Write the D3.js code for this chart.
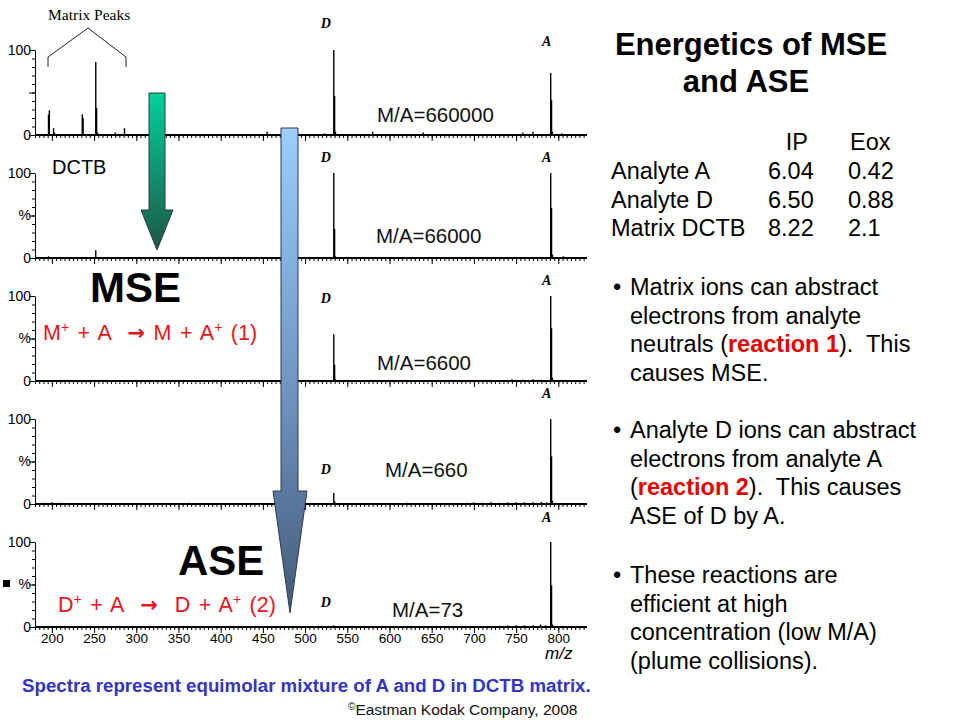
<!DOCTYPE html>
<html><head><meta charset="utf-8">
<script src="https://cdn.jsdelivr.net/npm/d3@7"></script>
<style>body{margin:0;background:#fff} svg{display:block} text{white-space:pre}</style>
</head><body>
<svg id="c" width="960" height="720"></svg>
<script>
// ---------- data ----------
const mzDomain = [180, 834];
const xTickValues = [200,250,300,350,400,450,500,550,600,650,700,750,800];
const ratioLabels = ["M/A=660000","M/A=66000","M/A=6600","M/A=660","M/A=73"];
const peaks1 = [[196,24],[197,29],[202,8],[203,3],[236,24],[237,20],[252,86],[253,32],[254,3],[275,3],[286,8],[455,4],[523,2],[534,100],[535,46],[536,4],[580,4],[640,3],[758,3],[770,4],[791,73],[792,41],[793,4],[804,2]];
const peaks2 = [[196,2],[252,9],[534,100],[535,34],[536,2],[791,100],[792,59],[793,4],[806,2]];
const peaks3 = [[534,55],[535,19],[536,2],[745,2],[758,1.5],[770,2],[780,1.5],[791,100],[792,62],[793,4]];
const peaks4 = [[190,1.5],[200,2],[210,1.5],[252,1],[300,1],[362,1.5],[420,1],[534,13],[535,3],[621,1.5],[692,1.5],[700,2],[710,1.5],[720,2],[730,1.5],[740,2],[750,2],[760,2],[770,2],[780,2.5],[786,2],[791,100],[792,56],[793,4]];
const peaks5 = [[534,2],[731,1.5],[740,2],[750,2],[760,2],[770,2],[779,3],[785,2],[791,100],[792,49],[793,3]];
const panelPeaks = [peaks1, peaks2, peaks3, peaks4, peaks5];
const tableHeader = ["IP","Eox"];
const tableRows = [["Analyte A","6.04","0.42"],["Analyte D","6.50","0.88"],["Matrix DCTB","8.22","2.1"]];
const reaction1 = ["M","+"," + A  ","\u2192"," M + A","+"," (1)"];
const reaction2 = ["D","+"," + A  ","\u2192","  D + A","+"," (2)"];

// ---------- layout ----------
const svg = d3.select("#c");
const x = d3.scaleLinear().domain(mzDomain).range([35, 587]);
const panelTop = i => 50 + i * 123;
const panelH = 85;
const FONT = "Liberation Sans, Arial, Helvetica, sans-serif";
const SERIF = "Liberation Serif, Times New Roman, serif";

const dLabelBase = [28, 162, 303, 474, 607];
const aLabelBase = [46, 162, 285, 398, 522];
const ratioPos = [[377,122],[376,243],[377,370],[385,477],[392,617]];

panelPeaks.forEach((pk, i) => {
  const top = panelTop(i);
  const y = d3.scaleLinear().domain([0, 100]).range([top + panelH, top]);
  const g = svg.append("g");

  g.append("g").attr("transform", `translate(0,${y(0)})`)
    .call(d3.axisBottom(x).tickValues(d3.range(180, 835, 5)).tickSize(3).tickSizeOuter(0).tickFormat(""))
    .call(a => a.select(".domain").remove());
  const major = g.append("g").attr("transform", `translate(0,${y(0)})`)
    .call(d3.axisBottom(x).tickValues(xTickValues).tickSize(6).tickSizeOuter(0)
      .tickFormat(i === 4 ? d3.format("d") : ""));
  major.select(".domain").remove();
  major.selectAll("text").attr("font-family", FONT).attr("font-size", 13.5).attr("fill", "#000").attr("dy", "0.5em");
  g.append("line").attr("x1", 35).attr("x2", 587).attr("y1", y(0)).attr("y2", y(0))
    .attr("stroke", "#000").attr("stroke-width", 2);

  g.append("g").attr("transform", "translate(35,0)")
    .call(d3.axisLeft(y).tickValues(d3.range(0, 101, 10)).tickSize(3).tickSizeOuter(0).tickFormat(""));
  const yMaj = g.append("g").attr("transform", "translate(35,0)")
    .call(d3.axisLeft(y).tickValues([0, 50, 100]).tickSize(6).tickSizeOuter(0)
      .tickFormat(d => d === 50 ? (i === 0 ? "" : "%") : String(d)));
  yMaj.select(".domain").remove();
  yMaj.selectAll("text").attr("font-family", FONT).attr("font-size", 14).attr("fill", "#000").attr("x", -4);
  g.selectAll(".tick line").attr("stroke", "#000");
  g.selectAll(".domain").attr("stroke", "#000");

  g.selectAll("line.pk").data(pk).join("line").attr("class", "pk")
    .attr("x1", d => x(d[0])).attr("x2", d => x(d[0]))
    .attr("y1", y(0)).attr("y2", d => y(d[1]))
    .attr("stroke", "#000").attr("stroke-width", 1.4);

  g.append("text").attr("x", x(534) - 8).attr("y", dLabelBase[i]).text("D")
    .attr("font-family", SERIF).attr("font-style", "italic").attr("font-weight", "bold").attr("font-size", 14).attr("text-anchor", "middle");
  g.append("text").attr("x", x(791) - 4).attr("y", aLabelBase[i]).text("A")
    .attr("font-family", SERIF).attr("font-style", "italic").attr("font-weight", "bold").attr("font-size", 14).attr("text-anchor", "middle");
  g.append("text").attr("x", ratioPos[i][0]).attr("y", ratioPos[i][1]).text(ratioLabels[i])
    .attr("font-family", FONT).attr("font-size", 20.5).attr("fill", "#111");
});

svg.append("text").attr("x", 545).attr("y", 659).text("m/z")
  .attr("font-family", FONT).attr("font-style", "italic").attr("font-size", 17);

svg.append("text").attr("x", 48).attr("y", 20).text("Matrix Peaks")
  .attr("font-family", SERIF).attr("font-size", 15.5);
svg.append("path").attr("d", "M48,67V57L88,28L126,57V67").attr("fill", "none").attr("stroke", "#222").attr("stroke-width", 1);

svg.append("text").attr("x", 52).attr("y", 174).text("DCTB").attr("font-family", FONT).attr("font-size", 20);

const defs = svg.append("defs");
const gg = defs.append("linearGradient").attr("id", "gGreen").attr("x1", 0).attr("x2", 0).attr("y1", 0).attr("y2", 1);
gg.append("stop").attr("offset", "0%").attr("stop-color", "#00d29b");
gg.append("stop").attr("offset", "100%").attr("stop-color", "#1e5646");
const gb = defs.append("linearGradient").attr("id", "gBlue").attr("x1", 0).attr("x2", 0).attr("y1", 0).attr("y2", 1);
gb.append("stop").attr("offset", "0%").attr("stop-color", "#9ccdfb");
gb.append("stop").attr("offset", "55%").attr("stop-color", "#6f93bf");
gb.append("stop").attr("offset", "100%").attr("stop-color", "#435a78");

svg.append("path").attr("d", "M149,93H165V210H173L157,250L141,210H149Z")
  .attr("fill", "url(#gGreen)").attr("stroke", "#2c3b36").attr("stroke-width", 1);
svg.append("path").attr("d", "M281,128H298V491H307L290,613L273,491H281Z")
  .attr("fill", "url(#gBlue)").attr("stroke", "#2e3a48").attr("stroke-width", 1);

svg.append("text").attr("x", 90).attr("y", 302).text("MSE").attr("font-family", FONT).attr("font-weight", "bold").attr("font-size", 42);
svg.append("text").attr("x", 178).attr("y", 575).text("ASE").attr("font-family", FONT).attr("font-weight", "bold").attr("font-size", 42);

function reaction(parts, xp, yp) {
  const t = svg.append("text").attr("x", xp).attr("y", yp).attr("font-family", FONT).attr("font-size", 21.5)
    .attr("fill", "#e8141c").style("word-spacing", "2.5px");
  parts.forEach((p, k) => {
    const s = t.append("tspan").text(p);
    if (k === 1 || k === 5) s.attr("font-size", 14).attr("dy", -8);
    if (k === 2 || k === 6) s.attr("dy", 8);
    if (k === 3) s.attr("font-family", "DejaVu Sans, sans-serif").attr("font-weight", "bold").attr("font-size", 21);
  });
}
reaction(reaction1, 43, 340);
reaction(reaction2, 58, 612);

svg.append("rect").attr("x", 3).attr("y", 580).attr("width", 7).attr("height", 7).attr("fill", "#000");

svg.append("text").attr("x", 22).attr("y", 692).text("Spectra represent equimolar mixture of A and D in DCTB matrix.")
  .attr("font-family", FONT).attr("font-weight", "bold").attr("font-size", 18.7).attr("fill", "#3434c4");
const cp = svg.append("text").attr("x", 348).attr("y", 715).attr("font-family", FONT).attr("font-size", 15.5).attr("fill", "#111");
cp.append("tspan").text("\u00A9").attr("font-size", 10).attr("dy", -5);
cp.append("tspan").text("Eastman Kodak Company, 2008").attr("dy", 5);

svg.append("text").attr("x", 751).attr("y", 55).attr("text-anchor", "middle").text("Energetics of MSE")
  .attr("font-family", FONT).attr("font-weight", "bold").attr("font-size", 31);
svg.append("text").attr("x", 746).attr("y", 92).attr("text-anchor", "middle").text("and ASE")
  .attr("font-family", FONT).attr("font-weight", "bold").attr("font-size", 31);

const TS = 23.5;
svg.append("text").attr("x", 808).attr("y", 150).attr("text-anchor", "end").text(tableHeader[0]).attr("font-family", FONT).attr("font-size", TS);
svg.append("text").attr("x", 850).attr("y", 150).text(tableHeader[1]).attr("font-family", FONT).attr("font-size", TS);
tableRows.forEach((r, k) => {
  const yy = 179 + k * 28.7;
  svg.append("text").attr("x", 611).attr("y", yy).text(r[0]).attr("font-family", FONT).attr("font-size", TS);
  svg.append("text").attr("x", 768).attr("y", yy).text(r[1]).attr("font-family", FONT).attr("font-size", TS);
  svg.append("text").attr("x", 848).attr("y", yy).text(r[2]).attr("font-family", FONT).attr("font-size", TS);
});

const bullets = [
  {y: 295, lines: [["Matrix ions can abstract"],["electrons from analyte"],["neutrals (", "*reaction 1", ").  This"],["causes MSE."]]},
  {y: 438, lines: [["Analyte D ions can abstract"],["electrons from analyte A"],["(", "*reaction 2", ").  This causes"],["ASE of D by A."]]},
  {y: 583, lines: [["These reactions are"],["efficient at high"],["concentration (low M/A)"],["(plume collisions)."]]}
];
bullets.forEach(b => {
  svg.append("text").attr("x", 613).attr("y", b.y).text("\u2022").attr("font-family", FONT).attr("font-size", TS);
  b.lines.forEach((ln, k) => {
    const t = svg.append("text").attr("x", 630).attr("y", b.y + k * 28.6).attr("font-family", FONT).attr("font-size", TS);
    ln.forEach(s => {
      if (s.startsWith("*")) t.append("tspan").text(s.slice(1)).attr("fill", "#e60000").attr("font-weight", "bold");
      else t.append("tspan").text(s);
    });
  });
});
</script>
</body></html>
